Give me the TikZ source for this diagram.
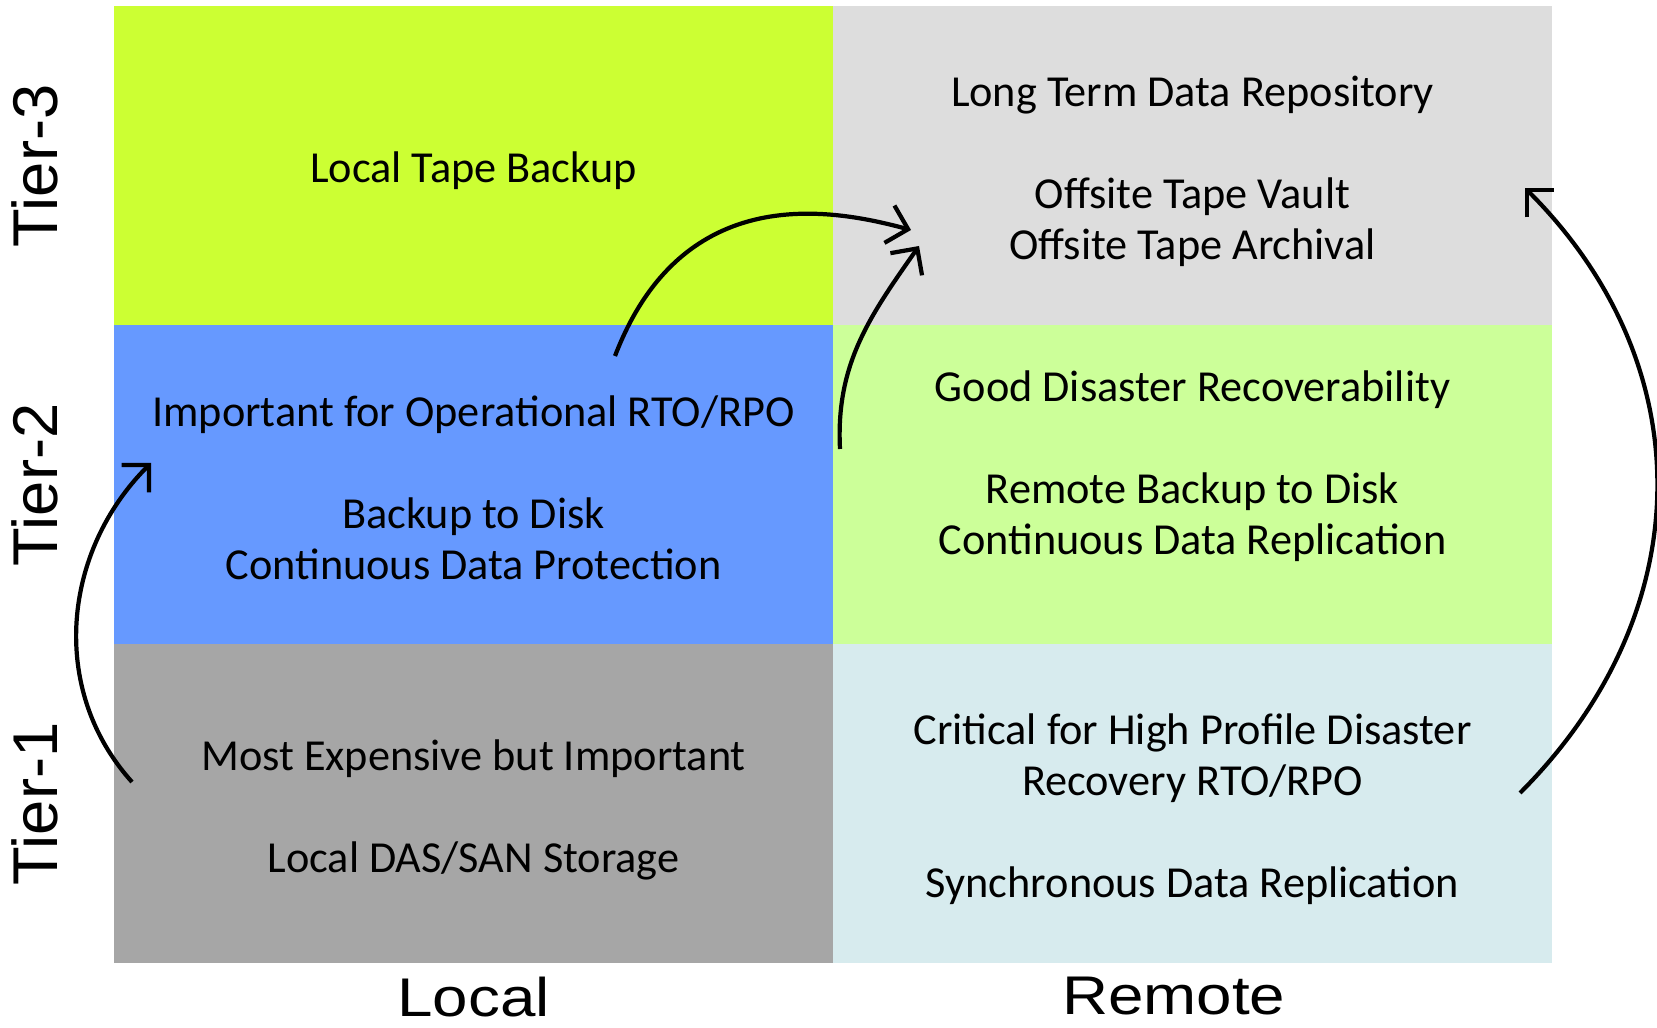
\documentclass[tikz,border=0pt]{standalone}
\usepackage{fontspec}
\setmainfont{Carlito}
\newfontfamily\axisfont{Liberation Sans}
\usetikzlibrary{positioning,arrows.meta}

\definecolor{limecell}{RGB}{204,255,51}
\definecolor{greycell}{RGB}{221,221,221}
\definecolor{bluecell}{RGB}{102,153,255}
\definecolor{greencell}{RGB}{204,255,153}
\definecolor{darkcell}{RGB}{166,166,166}
\definecolor{icecell}{RGB}{215,235,238}

\begin{document}
\begin{tikzpicture}%
  [cell/.style=
    {minimum width=7.19cm,minimum height=3.19cm,inner sep=0pt,outer sep=0pt},
   txt/.style=
    {align=center,inner sep=0pt,font=\fontsize{12.6}{14.5}\selectfont},
   tier/.style=
    {rotate=90,inner sep=0pt,font=\axisfont\fontsize{18}{20}\selectfont},
   side/.style=
    {inner sep=0pt,xscale=1.17,transform shape,
     font=\axisfont\fontsize{15.5}{18}\selectfont},
   flow/.style={line width=1.2pt,-{Straight Barb[length=5.5pt,width=11pt]}}
  ]
  \useasboundingbox (0,0) rectangle (16.57,10.28);
  \node[cell,fill=limecell] (l3) at (4.735,8.62) {};
  \node[cell,fill=greycell,right=0pt of l3] (r3) {};
  \node[cell,fill=bluecell,below=0pt of l3] (l2) {};
  \node[cell,fill=greencell,right=0pt of l2] (r2) {};
  \node[cell,fill=darkcell,below=0pt of l2] (l1) {};
  \node[cell,fill=icecell,right=0pt of l1] (r1) {};
  \node[txt] (l3t) at ([yshift=-0.05cm]l3.center) {Local Tape Backup};
  \node[txt] (r3t) at ([yshift=-0.05cm]r3.center)
    {Long Term Data Repository\\[14.5pt]
     Offsite Tape Vault\\Offsite Tape Archival};
  \node[txt] (l2t) at ([yshift=-0.03cm]l2.center)
    {Important for Operational RTO/RPO\\[14.5pt]
     Backup to Disk\\Continuous Data Protection};
  \node[txt] (r2t) at ([yshift=0.19cm]r2.center)
    {Good Disaster Recoverability\\[14.5pt]
     Remote Backup to Disk\\Continuous Data Replication};
  \node[txt] (l1t) at ([yshift=-0.06cm]l1.center)
    {Most Expensive but Important\\[14.5pt]
     Local DAS/SAN Storage};
  \node[txt] (r1t) at ([yshift=-0.05cm]r1.center)
    {Critical for High Profile Disaster\\Recovery RTO/RPO\\[14.5pt]
     Synchronous Data Replication};
  \node[tier] (t3) at ([xshift=-0.79cm]l3.west) {Tier-3};
  \node[tier] (t2) at ([xshift=-0.79cm]l2.west) {Tier-2};
  \node[tier] (t1) at ([xshift=-0.79cm]l1.west) {Tier-1};
  \node[side,below=0.13cm of l1] (loc) {Local};
  \node[side,below=0.13cm of r1,xshift=-1.6mm] (rem) {Remote};
  \coordinate (a1s) at (1.32,2.46);
  \coordinate (a1e) at (1.51,5.65);
  \coordinate (a2s) at (6.15,6.72);
  \coordinate (a2e) at (9.11,7.98);
  \coordinate (a3s) at (8.40,5.79);
  \coordinate (a3e) at (9.19,7.82);
  \coordinate (a4s) at (15.20,2.35);
  \coordinate (a4e) at (15.25,8.40);
  \draw[flow] (a1s) to[out=132,in=-135] (a1e);
  \draw[flow] (a2s) .. controls +(69:1.9) and +(165:0.79) .. (a2e);
  \draw[flow] (a3s) to[out=93,in=-125] (a3e);
  \draw[flow] (a4s) to[out=45,in=-45,looseness=1.07] (a4e);
\end{tikzpicture}
\end{document}
